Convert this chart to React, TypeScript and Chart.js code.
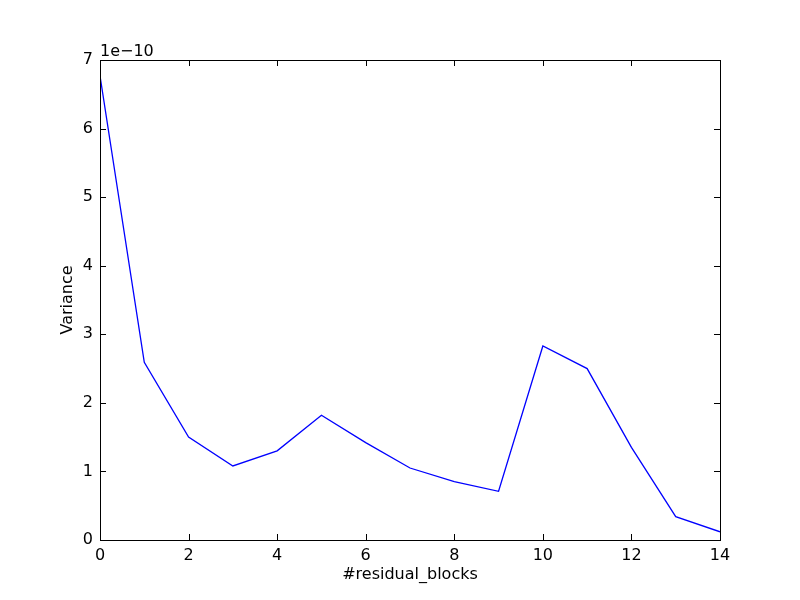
import React, { useEffect, useRef } from "react";
import { Chart, registerables } from "chart.js";

Chart.register(...registerables);

const residualBlocks = [0, 1, 2, 3, 4, 5, 6, 7, 8, 9, 10, 11, 12, 13, 14];
// variance values in units of 1e-10
const variance = [6.77, 2.59, 1.5, 1.08, 1.3, 1.82, 1.42, 1.05, 0.85, 0.71, 2.83, 2.5, 1.35, 0.34, 0.12];
const offsetText = "1e\u221210";
const xLabel = "#residual_blocks";
const yLabel = "Variance";

const FONT = "DejaVu Sans";
const FS = 16;

const framePlugin = {
  id: "mplFrame",
  afterDatasetsDraw(chart: any) {
    const { ctx, chartArea } = chart;
    const { left, right, top, bottom } = chartArea;
    const xs = chart.scales.x;
    const ys = chart.scales.y;
    ctx.save();
    ctx.strokeStyle = "#000";
    ctx.lineWidth = 1;
    const tl = 6;
    ctx.beginPath();
    xs.ticks.forEach((t: any) => {
      const px = Math.round(xs.getPixelForValue(t.value)) + 0.5;
      ctx.moveTo(px, bottom);
      ctx.lineTo(px, bottom - tl);
      ctx.moveTo(px, top);
      ctx.lineTo(px, top + tl);
    });
    ys.ticks.forEach((t: any) => {
      const py = Math.round(ys.getPixelForValue(t.value)) + 0.5;
      ctx.moveTo(left, py);
      ctx.lineTo(left + tl, py);
      ctx.moveTo(right, py);
      ctx.lineTo(right - tl, py);
    });
    ctx.stroke();
    ctx.strokeRect(Math.round(left) + 0.5, Math.round(top) + 0.5, Math.round(right - left), Math.round(bottom - top));
    ctx.fillStyle = "#000";
    ctx.font = `${FS}px "${FONT}"`;
    ctx.textAlign = "left";
    ctx.textBaseline = "alphabetic";
    ctx.fillText(offsetText, left, top - 4);
    ctx.restore();
  },
};

export default function App() {
  const ref = useRef<HTMLCanvasElement | null>(null);
  useEffect(() => {
    if (!ref.current) return;
    Chart.defaults.font.family = FONT;
    Chart.defaults.font.size = FS;
    Chart.defaults.color = "#000";
    const chart = new Chart(ref.current, {
      type: "line",
      data: {
        datasets: [
          {
            data: residualBlocks.map((x, i) => ({ x, y: variance[i] })),
            borderColor: "#0000ff",
            borderWidth: 1.3,
            pointRadius: 0,
            fill: false,
            tension: 0,
          },
        ],
      },
      options: {
        responsive: false,
        animation: false,
        layout: { padding: { top: 60, right: 80, left: 0, bottom: 0 } },
        plugins: { legend: { display: false }, tooltip: { enabled: false } },
        scales: {
          x: {
            type: "linear",
            min: 0,
            max: 14,
            ticks: { stepSize: 2, padding: 6, maxRotation: 0, font: { size: FS, family: FONT }, color: "#000" },
            grid: { display: false, drawTicks: false },
            border: { display: false },
            title: { display: true, text: xLabel, font: { size: FS, family: FONT }, color: "#000", padding: { top: 0, bottom: 16 } },
            afterFit: (s: any) => {
              s.height = 60;
            },
          },
          y: {
            type: "linear",
            min: 0,
            max: 7,
            ticks: { stepSize: 1, padding: 7, font: { size: FS, family: FONT }, color: "#000" },
            grid: { display: false, drawTicks: false },
            border: { display: false },
            title: { display: true, text: yLabel, font: { size: FS, family: FONT }, color: "#000", padding: { top: 58, bottom: 0 } },
            afterFit: (s: any) => {
              s.width = 100;
            },
          },
        },
      },
      plugins: [framePlugin],
    });
    return () => chart.destroy();
  }, []);
  return (
    <div style={{ position: "absolute", left: 0, top: 0, width: 800, height: 600, background: "#fff" }}>
      <canvas ref={ref} width={800} height={600} />
    </div>
  );
}
